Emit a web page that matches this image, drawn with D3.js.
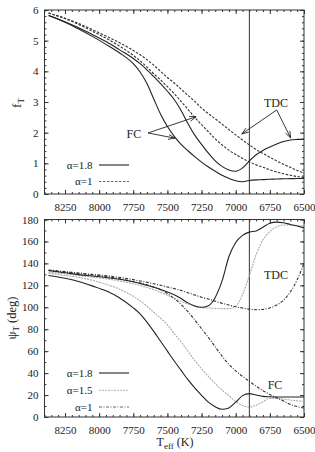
<!DOCTYPE html>
<meta charset="utf-8">
<style>
body { margin: 0; background: #fff; }
text { font-family: "Liberation Serif", "Times New Roman", serif; fill: #222; }
.frame { fill: none; stroke: #333; stroke-width: 1; }
.curve { fill: none; stroke-width: 1.1; }
</style>
<body>
<script src="https://d3js.org/d3.v7.min.js"></script>
<script>

// effective temperature grid (K)
var temps = [8370, 8250, 8150, 8050, 7950, 7850, 7750, 7700, 7650, 7600, 7550, 7500, 7450, 7400, 7350, 7300,
             7250, 7200, 7150, 7100, 7050, 7000, 6950, 6900, 6850, 6800, 6750, 6700, 6650, 6600, 6550, 6500];

// upper panel: f_T
var fT_fc18  = [5.82, 5.6, 5.38, 5.14, 4.88, 4.6, 4.25, 3.98, 3.6, 3.1, 2.6, 2.2, 1.88, 1.62, 1.41, 1.22,
                1.04, 0.88, 0.74, 0.61, 0.51, 0.43, 0.40, 0.44, 0.46, 0.47, 0.48, 0.49, 0.495, 0.5, 0.505, 0.51];
var fT_tdc18 = [5.82, 5.62, 5.42, 5.2, 4.97, 4.7, 4.42, 4.25, 4.05, 3.83, 3.6, 3.35, 3.08, 2.72, 2.3, 1.92,
                1.62, 1.33, 1.08, 0.9, 0.78, 0.74, 0.85, 1.08, 1.28, 1.42, 1.53, 1.63, 1.71, 1.76, 1.78, 1.79];
var fT_fc1   = [5.9, 5.72, 5.53, 5.31, 5.08, 4.82, 4.52, 4.34, 4.14, 3.92, 3.72, 3.5, 3.27, 3.02, 2.76, 2.5,
                2.26, 2.03, 1.8, 1.6, 1.43, 1.29, 1.16, 1.05, 0.95, 0.87, 0.79, 0.72, 0.66, 0.61, 0.57, 0.54];
var fT_tdc1  = [5.9, 5.73, 5.56, 5.36, 5.15, 4.93, 4.68, 4.54, 4.38, 4.2, 4.0, 3.8, 3.62, 3.42, 3.22, 3.02,
                2.8, 2.62, 2.45, 2.28, 2.1, 1.93, 1.76, 1.6, 1.45, 1.32, 1.2, 1.08, 0.97, 0.87, 0.77, 0.68];

// lower panel: psi_T (deg)
var psi_tdc18 = [133.5, 131.5, 129.8, 128.5, 127.2, 125.5, 123.2, 121.8, 120, 118.2, 116.2, 114, 111.5, 108, 104, 101.2,
                 100, 101.5, 109, 124, 146, 159, 165.5, 168.5, 169.5, 173, 176.5, 177.6, 177, 175.5, 174, 172.4];
var psi_tdc15 = [132, 130.5, 129, 127.5, 126, 124, 121.5, 120, 118, 116, 113.5, 111, 108.2, 105.5, 103, 101,
                 99.8, 99.3, 99, 98.8, 98.8, 101, 111.5, 129, 148, 161.5, 169, 173.5, 175, 175, 174.5, 174];
var psi_tdc1  = [134, 132.5, 131.2, 130, 128.8, 127.2, 125.2, 124, 122.8, 121.5, 120, 118.5, 117, 115.3, 113.3, 111.2,
                 109.2, 107.5, 105.5, 103.7, 102, 100.5, 99.3, 98.3, 97.8, 98, 99.5, 102, 106.5, 114, 125, 140];
var psi_fc18  = [129, 126.5, 123.5, 119.5, 115, 108.5, 99.5, 94, 86.5, 78, 69, 60, 51, 42.5, 34, 26.5,
                 19.8, 13.5, 9.3, 7.0, 8.3, 13.5, 19.5, 21.3, 20, 18.8, 18.4, 18.2, 18.2, 18.2, 18.2, 18.2];
var psi_fc15  = [131, 129, 127.3, 124.5, 121, 116.5, 110, 106, 101, 95.5, 90, 84, 76, 68.5, 60, 51.5,
                 44, 37, 30.5, 24.5, 19.5, 14, 10.5, 9, 10.8, 14, 17, 17, 16.2, 15.5, 14.8, 14.3];
var psi_fc1   = [133.5, 132, 130.8, 129.5, 128, 126, 123.5, 122, 120.5, 118.5, 116, 112.5, 108, 102.5, 96, 88.5,
                 80.5, 72.5, 64, 55.5, 48, 42, 37, 32.5, 28, 24, 20.5, 17.5, 14.5, 11.5, 9.5, 8.2];

var xTicks = [8250, 8000, 7750, 7500, 7250, 7000, 6750, 6500];
var fTicks = [0, 1, 2, 3, 4, 5, 6];
var psiTicks = [0, 20, 40, 60, 80, 100, 120, 140, 160, 180];
var boundaryT = 6900;

var w = 315, h = 452;
var svg = d3.select("body").append("svg").attr("width", w).attr("height", h);

var x = d3.scaleLinear().domain([8400, 6500]).range([44.5, 304]);
var yTop = d3.scaleLinear().domain([0, 6]).range([194, 10]);
var yBot = d3.scaleLinear().domain([0, 180]).range([417, 219.5]);

var xMinor = d3.range(8400, 6499, -50);

function drawAxes(y, yMajor, yMinor) {
    var g = svg.append("g");
    var y0 = y.range()[0], y1 = y.range()[1];
    var x0 = x.range()[0], x1 = x.range()[1];

    function clean(sel) {
        sel.select(".domain").remove();
        sel.attr("font-family", "Liberation Serif, serif").attr("font-size", 11);
        sel.selectAll("line").attr("stroke", "#333");
        sel.selectAll("text").attr("fill", "#222");
    }

    g.append("g").attr("transform", "translate(0," + y0 + ")")
        .call(d3.axisBottom(x).tickValues(xTicks).tickSize(-4).tickSizeOuter(0).tickPadding(9).tickFormat(d3.format("d")))
        .call(clean);
    g.append("g").attr("transform", "translate(0," + y0 + ")")
        .call(d3.axisBottom(x).tickValues(xMinor).tickSize(-2).tickSizeOuter(0).tickFormat(""))
        .call(clean);
    g.append("g").attr("transform", "translate(0," + y1 + ")")
        .call(d3.axisTop(x).tickValues(xTicks).tickSize(-4).tickSizeOuter(0).tickFormat(""))
        .call(clean);
    g.append("g").attr("transform", "translate(0," + y1 + ")")
        .call(d3.axisTop(x).tickValues(xMinor).tickSize(-2).tickSizeOuter(0).tickFormat(""))
        .call(clean);

    g.append("g").attr("transform", "translate(" + x0 + ",0)")
        .call(d3.axisLeft(y).tickValues(yMajor).tickSize(-4).tickSizeOuter(0).tickPadding(6).tickFormat(d3.format("d")))
        .call(clean);
    g.append("g").attr("transform", "translate(" + x0 + ",0)")
        .call(d3.axisLeft(y).tickValues(yMinor).tickSize(-2).tickSizeOuter(0).tickFormat(""))
        .call(clean);
    g.append("g").attr("transform", "translate(" + x1 + ",0)")
        .call(d3.axisRight(y).tickValues(yMajor).tickSize(-4).tickSizeOuter(0).tickFormat(""))
        .call(clean);
    g.append("g").attr("transform", "translate(" + x1 + ",0)")
        .call(d3.axisRight(y).tickValues(yMinor).tickSize(-2).tickSizeOuter(0).tickFormat(""))
        .call(clean);

    // vertical boundary line
    g.append("line")
        .attr("x1", x(boundaryT)).attr("x2", x(boundaryT))
        .attr("y1", y1).attr("y2", y0)
        .attr("stroke", "#333").attr("stroke-width", 1);

    g.append("rect").attr("class", "frame")
        .attr("x", x0).attr("y", y1)
        .attr("width", x1 - x0).attr("height", y0 - y1);
}

function drawCurve(y, values, color, dash, width) {
    var line = d3.line()
        .x(function(d, i) { return x(temps[i]); })
        .y(function(d) { return y(d); })
        .curve(d3.curveMonotoneX);
    svg.append("path")
        .datum(values)
        .attr("class", "curve")
        .attr("d", line)
        .attr("stroke", color)
        .attr("stroke-width", width || 1.1)
        .attr("stroke-dasharray", dash || null);
}

function arrow(y, from, to) {
    var x1 = x(from[0]), y1 = y(from[1]), x2 = x(to[0]), y2 = y(to[1]);
    var a = Math.atan2(y2 - y1, x2 - x1), L = 7, s = 0.35;
    svg.append("path")
        .attr("d", "M" + x1 + "," + y1 + "L" + x2 + "," + y2 +
            "M" + (x2 - L * Math.cos(a - s)) + "," + (y2 - L * Math.sin(a - s)) +
            "L" + x2 + "," + y2 +
            "L" + (x2 - L * Math.cos(a + s)) + "," + (y2 - L * Math.sin(a + s)))
        .attr("fill", "none").attr("stroke", "#222").attr("stroke-width", 0.9);
}

function legend(yCenter, label, color, dash, width) {
    svg.append("text").attr("x", 92.5).attr("y", yCenter).attr("dy", "0.35em")
        .attr("text-anchor", "end").attr("font-size", 11).text(label);
    svg.append("line").attr("x1", 99).attr("x2", 129).attr("y1", yCenter).attr("y2", yCenter)
        .attr("stroke", color).attr("stroke-width", width || 1.1).attr("stroke-dasharray", dash || null);
}

var dashTop = "2.5,1.5";
var dashDot = "3,1.5,1,1.5";
var grayDash = "2,1";
var gray = "#aaa";
var thin = 0.75;

// ---- upper panel ----
drawAxes(yTop, fTicks, d3.range(0, 6.01, 0.2).map(function(d) { return +d.toFixed(1); }));
drawCurve(yTop, fT_fc1, "#333", dashTop, thin);
drawCurve(yTop, fT_tdc1, "#333", dashTop, thin);
drawCurve(yTop, fT_fc18, "#222");
drawCurve(yTop, fT_tdc18, "#222");

svg.append("text").attr("x", x(7745)).attr("y", yTop(1.96)).attr("dy", "0.35em")
    .attr("text-anchor", "middle").attr("font-size", 12).text("FC");
arrow(yTop, [7642, 1.99], [7290, 2.52]);
arrow(yTop, [7642, 1.99], [7445, 1.82]);

svg.append("text").attr("x", x(6705)).attr("y", yTop(2.97)).attr("dy", "0.35em")
    .attr("text-anchor", "middle").attr("font-size", 12).text("TDC");
arrow(yTop, [6700, 2.74], [6955, 1.96]);
arrow(yTop, [6700, 2.74], [6598, 1.83]);

legend(165, "\u03b1=1.8", "#222");
legend(181.5, "\u03b1=1", "#333", dashTop, thin);

// y label upper
svg.append("text").attr("transform", "translate(21,103) rotate(-90)")
    .attr("text-anchor", "middle").attr("font-size", 13)
    .html('f<tspan font-size="9" dy="3">T</tspan>');

// ---- lower panel ----
drawAxes(yBot, psiTicks, d3.range(0, 181, 10));
drawCurve(yBot, psi_tdc15, gray, grayDash, 0.9);
drawCurve(yBot, psi_fc15, gray, grayDash, 0.9);
drawCurve(yBot, psi_tdc1, "#333", dashDot, thin);
drawCurve(yBot, psi_fc1, "#333", dashDot, thin);
drawCurve(yBot, psi_tdc18, "#222");
drawCurve(yBot, psi_fc18, "#222");

svg.append("text").attr("x", x(6705)).attr("y", yBot(129.6)).attr("dy", "0.35em")
    .attr("text-anchor", "middle").attr("font-size", 12).text("TDC");
svg.append("text").attr("x", x(6712)).attr("y", yBot(29.6)).attr("dy", "0.35em")
    .attr("text-anchor", "middle").attr("font-size", 12).text("FC");

legend(373, "\u03b1=1.8", "#222");
legend(390.3, "\u03b1=1.5", gray, grayDash, 0.9);
legend(407, "\u03b1=1", "#333", dashDot, thin);

svg.append("text").attr("transform", "translate(16,318) rotate(-90)")
    .attr("text-anchor", "middle").attr("font-size", 12.5)
    .html('\u03c8<tspan font-size="9" dy="3">T</tspan><tspan dy="-3"> (deg)</tspan>');

svg.append("text").attr("x", 175).attr("y", 446)
    .attr("text-anchor", "middle").attr("font-size", 12)
    .html('T<tspan font-size="9" dy="3">eff</tspan><tspan dy="-3"> (K)</tspan>');

</script>
</body>
